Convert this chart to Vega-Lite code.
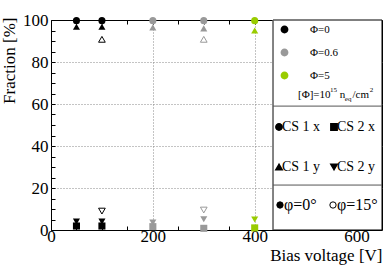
{
  "$schema": "https://vega.github.io/schema/vega-lite/v6.json",
  "width": 331,
  "height": 210,
  "autosize": {"type": "none"},
  "padding": {"left": 51, "top": 20, "right": 8, "bottom": 35},
  "config": {
    "font": "Liberation Serif",
    "view": {"stroke": "black", "strokeWidth": 1},
    "axis": {"labelFont": "Liberation Serif", "titleFont": "Liberation Serif", "labelColor": "black", "titleColor": "black", "tickColor": "black", "labelFontSize": 17, "titleFontSize": 17, "titleFontWeight": "normal", "labelOverlap": false, "domain": false},
    "legend": {"labelFont": "Liberation Serif", "labelColor": "black", "padding": 0}
  },
  "data": {
    "values": [
      {"Bias": 50, "Fraction": 99.7, "Phi": "Φ=0", "Strip": "CS 1 x", "Angle": "φ=0°"},
      {"Bias": 50, "Fraction": 96.8, "Phi": "Φ=0", "Strip": "CS 1 y", "Angle": "φ=0°"},
      {"Bias": 50, "Fraction": 1.9, "Phi": "Φ=0", "Strip": "CS 2 x", "Angle": "φ=0°"},
      {"Bias": 50, "Fraction": 4.0, "Phi": "Φ=0", "Strip": "CS 2 y", "Angle": "φ=0°"},
      {"Bias": 100, "Fraction": 99.7, "Phi": "Φ=0", "Strip": "CS 1 x", "Angle": "φ=0°"},
      {"Bias": 100, "Fraction": 96.8, "Phi": "Φ=0", "Strip": "CS 1 y", "Angle": "φ=0°"},
      {"Bias": 100, "Fraction": 1.9, "Phi": "Φ=0", "Strip": "CS 2 x", "Angle": "φ=0°"},
      {"Bias": 100, "Fraction": 4.0, "Phi": "Φ=0", "Strip": "CS 2 y", "Angle": "φ=0°"},
      {"Bias": 100, "Fraction": 90.8, "Phi": "Φ=0", "Strip": "CS 1 y", "Angle": "φ=15°"},
      {"Bias": 100, "Fraction": 9.0, "Phi": "Φ=0", "Strip": "CS 2 y", "Angle": "φ=15°"},
      {"Bias": 200, "Fraction": 99.7, "Phi": "Φ=0.6", "Strip": "CS 1 x", "Angle": "φ=0°"},
      {"Bias": 200, "Fraction": 96.5, "Phi": "Φ=0.6", "Strip": "CS 1 y", "Angle": "φ=0°"},
      {"Bias": 200, "Fraction": 1.6, "Phi": "Φ=0.6", "Strip": "CS 2 x", "Angle": "φ=0°"},
      {"Bias": 200, "Fraction": 3.5, "Phi": "Φ=0.6", "Strip": "CS 2 y", "Angle": "φ=0°"},
      {"Bias": 300, "Fraction": 99.7, "Phi": "Φ=0.6", "Strip": "CS 1 x", "Angle": "φ=0°"},
      {"Bias": 300, "Fraction": 96.0, "Phi": "Φ=0.6", "Strip": "CS 1 y", "Angle": "φ=0°"},
      {"Bias": 300, "Fraction": 0.8, "Phi": "Φ=0.6", "Strip": "CS 2 x", "Angle": "φ=0°"},
      {"Bias": 300, "Fraction": 5.1, "Phi": "Φ=0.6", "Strip": "CS 2 y", "Angle": "φ=0°"},
      {"Bias": 300, "Fraction": 90.8, "Phi": "Φ=0.6", "Strip": "CS 1 y", "Angle": "φ=15°"},
      {"Bias": 300, "Fraction": 9.5, "Phi": "Φ=0.6", "Strip": "CS 2 y", "Angle": "φ=15°"},
      {"Bias": 400, "Fraction": 99.7, "Phi": "Φ=5", "Strip": "CS 1 x", "Angle": "φ=0°"},
      {"Bias": 400, "Fraction": 95.0, "Phi": "Φ=5", "Strip": "CS 1 y", "Angle": "φ=0°"},
      {"Bias": 400, "Fraction": 1.0, "Phi": "Φ=5", "Strip": "CS 2 x", "Angle": "φ=0°"},
      {"Bias": 400, "Fraction": 5.0, "Phi": "Φ=5", "Strip": "CS 2 y", "Angle": "φ=0°"}
    ]
  },
  "resolve": {"axis": {"x": "independent", "y": "independent"}},
  "layer": [
    {
      "transform": [{"filter": "datum.Angle === 'φ=0°'"}],
      "mark": {"type": "point", "filled": true, "size": 50, "opacity": 1},
      "encoding": {
        "x": {"field": "Bias", "type": "quantitative", "scale": {"domain": [0, 650], "nice": false, "zero": false},
          "axis": {"title": "Bias voltage [V]", "orient": "bottom",
            "values": [0, 50, 100, 150, 200, 250, 300, 350, 400, 450, 500, 550, 600],
            "labelExpr": "datum.value % 200 === 0 ? datum.label : ''",
            "labelFlush": false, "labelPadding": 2, "tickSize": -4,
            "grid": true, "gridDash": [1, 2], "gridColor": "#888888",
            "gridOpacity": {"condition": {"test": "datum.value % 200 === 0 && datum.value > 0", "value": 1}, "value": 0},
            "titleX": 331, "titleY": 30, "titleAlign": "right", "titleBaseline": "alphabetic"}},
        "y": {"field": "Fraction", "type": "quantitative", "scale": {"domain": [0, 100], "nice": false, "zero": false},
          "axis": {"title": "Fraction [%]", "orient": "left",
            "values": [0, 5, 10, 15, 20, 25, 30, 35, 40, 45, 50, 55, 60, 65, 70, 75, 80, 85, 90, 95, 100],
            "labelExpr": "datum.value % 20 === 0 ? datum.label : ''",
            "labelPadding": 7, "tickSize": -4,
            "grid": true, "gridDash": [1, 2], "gridColor": "#888888",
            "gridOpacity": {"condition": {"test": "datum.value % 20 === 0 && datum.value > 0 && datum.value < 100", "value": 1}, "value": 0},
            "titleX": -37, "titleY": -3, "titleAlign": "right", "titleBaseline": "alphabetic", "titleAngle": 270}},
        "color": {"field": "Phi", "type": "nominal",
          "scale": {"domain": ["Φ=0", "Φ=0.6", "Φ=5"], "range": ["#000000", "#999999", "#99cc00"]},
          "legend": {"orient": "none", "legendX": 228, "legendY": 4, "title": null, "symbolType": "circle", "symbolSize": 40,
            "labelFontSize": 11, "labelOffset": 20, "rowPadding": 10, "padding": 0}},
        "shape": {"field": "Strip", "type": "nominal",
          "scale": {"domain": ["CS 1 x", "CS 2 x", "CS 1 y", "CS 2 y"], "range": ["circle", "square", "triangle-up", "triangle-down"]},
          "legend": {"orient": "none", "legendX": 221, "legendY": 100, "title": null, "columns": 2, "direction": "horizontal", "symbolSize": 40,
            "symbolFillColor": "black", "symbolStrokeColor": "black", "labelFontSize": 14, "labelOffset": -4,
            "columnPadding": 6, "rowPadding": 26, "padding": 0}}
      }
    },
    {
      "transform": [{"filter": "datum.Angle === 'φ=15°'"}],
      "mark": {"type": "point", "filled": false, "size": 45, "strokeWidth": 1, "opacity": 1},
      "encoding": {
        "x": {"field": "Bias", "type": "quantitative", "axis": null},
        "y": {"field": "Fraction", "type": "quantitative", "axis": null},
        "color": {"field": "Phi", "type": "nominal"},
        "shape": {"field": "Strip", "type": "nominal"},
        "fill": {"field": "Angle", "type": "nominal",
          "scale": {"domain": ["φ=0°", "φ=15°"], "range": ["#000000", "#ffffff"]},
          "legend": {"orient": "none", "legendX": 221, "legendY": 177, "title": null, "columns": 2, "direction": "horizontal", "symbolType": "circle", "symbolSize": 40,
            "symbolStrokeColor": "black", "symbolStrokeWidth": 1, "labelFontSize": 16, "labelOffset": -4,
            "columnPadding": 8, "padding": 0}}
      }
    },
    {
      "data": {"values": [{}]},
      "mark": {"type": "rect", "fill": "white", "stroke": "black", "strokeWidth": 1},
      "encoding": {
        "x": {"datum": 436, "type": "quantitative",
          "axis": {"orient": "top", "title": null, "labels": false, "grid": false, "tickSize": -4,
            "values": [0, 50, 100, 150, 200, 250, 300, 350, 400, 450, 500, 550, 600]}},
        "x2": {"datum": 650},
        "y": {"datum": 0, "type": "quantitative", "axis": null},
        "y2": {"datum": 100}
      }
    },
    {
      "data": {"values": [{}]},
      "mark": {"type": "rule", "color": "#888888", "strokeWidth": 1},
      "encoding": {"x": {"datum": 436, "type": "quantitative", "axis": null}, "y": {"datum": 0, "type": "quantitative", "axis": null}, "y2": {"datum": 100}}
    },
    {
      "data": {"values": [{}]},
      "mark": {"type": "rule", "color": "#555555", "strokeWidth": 1},
      "encoding": {"x": {"datum": 436, "type": "quantitative", "axis": null}, "x2": {"datum": 650}, "y": {"datum": 59, "type": "quantitative", "axis": null}}
    },
    {
      "data": {"values": [{}]},
      "mark": {"type": "rule", "color": "#555555", "strokeWidth": 1},
      "encoding": {"x": {"datum": 436, "type": "quantitative", "axis": null}, "x2": {"datum": 650}, "y": {"datum": 21.4, "type": "quantitative", "axis": null}}
    },
    {
      "data": {"values": [{}]},
      "mark": {"type": "text", "align": "left", "baseline": "middle", "fontSize": 11, "color": "black"},
      "encoding": {"x": {"datum": 485, "type": "quantitative", "axis": null}, "y": {"datum": 64.3, "type": "quantitative", "axis": null}, "text": {"value": "[Φ]=10"}}
    },
    {
      "data": {"values": [{}]},
      "mark": {"type": "text", "align": "left", "baseline": "middle", "fontSize": 7, "color": "black"},
      "encoding": {"x": {"datum": 548, "type": "quantitative", "axis": null}, "y": {"datum": 66.7, "type": "quantitative", "axis": null}, "text": {"value": "15"}}
    },
    {
      "data": {"values": [{}]},
      "mark": {"type": "text", "align": "left", "baseline": "middle", "fontSize": 11, "color": "black"},
      "encoding": {"x": {"datum": 567, "type": "quantitative", "axis": null}, "y": {"datum": 64.3, "type": "quantitative", "axis": null}, "text": {"value": "n"}}
    },
    {
      "data": {"values": [{}]},
      "mark": {"type": "text", "align": "left", "baseline": "middle", "fontSize": 7, "color": "black"},
      "encoding": {"x": {"datum": 577, "type": "quantitative", "axis": null}, "y": {"datum": 62.4, "type": "quantitative", "axis": null}, "text": {"value": "eq"}}
    },
    {
      "data": {"values": [{}]},
      "mark": {"type": "text", "align": "left", "baseline": "middle", "fontSize": 11, "color": "black"},
      "encoding": {"x": {"datum": 592, "type": "quantitative", "axis": null}, "y": {"datum": 64.3, "type": "quantitative", "axis": null}, "text": {"value": "/cm"}}
    },
    {
      "data": {"values": [{}]},
      "mark": {"type": "text", "align": "left", "baseline": "middle", "fontSize": 7, "color": "black"},
      "encoding": {"x": {"datum": 626, "type": "quantitative", "axis": null}, "y": {"datum": 66.7, "type": "quantitative", "axis": null}, "text": {"value": "2"}}
    }
  ]
}
